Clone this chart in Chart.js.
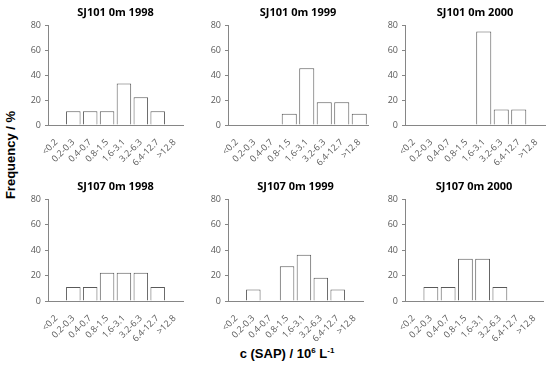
<!DOCTYPE html>
<html>
<head>
<meta charset="UTF-8">
<script src="https://cdn.jsdelivr.net/npm/chart.js"></script>
<style>
  body { margin: 0; background: #fff; width: 550px; height: 365px; position: relative; overflow: hidden; }
  canvas { position: absolute; }
  .axt { position: absolute; font-family: "Liberation Sans", Arial, sans-serif; font-weight: bold; font-size: 13px; color: #000; white-space: nowrap; }
  #ytitle { left: 10px; top: 155px; transform: translate(-50%, -50%) rotate(-90deg); }
  #xtitle { left: 287px; top: 353px; transform: translate(-50%, -50%); }
  sup { font-size: 8px; vertical-align: 5px; }
</style>
</head>
<body>
<div id="ytitle" class="axt">Frequency / %</div>
<div id="xtitle" class="axt">c (SAP) / 10<sup>6</sup> L<sup>-1</sup></div>

<script>
const classes = ['<0.2', '0.2-0.3', '0.4-0.7', '0.8-1.5', '1.6-3.1', '3.2-6.3', '6.4-12.7', '>12.8'];
const yTicks = [0, 20, 40, 60, 80];

const titles = ['SJ101 0m 1998', 'SJ101 0m 1999', 'SJ101 0m 2000',
                'SJ107 0m 1998', 'SJ107 0m 1999', 'SJ107 0m 2000'];

const sj101_1998 = [0, 11.1, 11.1, 11.1, 33.3, 22.2, 11.1, 0];
const sj101_1999 = [0, 0, 0, 9.1, 45.5, 18.2, 18.2, 9.1];
const sj101_2000 = [0, 0, 0, 0, 75, 12.5, 12.5, 0];
const sj107_1998 = [0, 11.1, 11.1, 22.2, 22.2, 22.2, 11.1, 0];
const sj107_1999 = [0, 9.1, 0, 27.3, 36.4, 18.2, 9.1, 0];
const sj107_2000 = [0, 11.1, 11.1, 33.3, 33.3, 11.1, 0, 0];

const series = [sj101_1998, sj101_1999, sj101_2000, sj107_1998, sj107_1999, sj107_2000];

// panel canvases: left, top, width, height
const boxes = [
  [18, 0, 170, 165], [198, 0, 175, 165], [375, 0, 175, 165],
  [18, 174, 170, 167], [198, 174, 170, 167], [375, 174, 173, 167]
];

const Y_W = 30, X_H = 40;
const grey = '#868686';
const tickCol = '#595959';
const tickFont = { family: '"Open Sans", "Liberation Sans", sans-serif', size: 9 };

series.forEach((vals, i) => {
  const b = boxes[i];
  const c = document.createElement('canvas');
  c.style.left = b[0] + 'px';
  c.style.top = b[1] + 'px';
  c.style.width = b[2] + 'px';
  c.style.height = b[3] + 'px';
  c.width = b[2];
  c.height = b[3];
  document.body.appendChild(c);

  new Chart(c.getContext('2d'), {
    type: 'bar',
    data: {
      labels: classes,
      datasets: [{
        data: vals,
        backgroundColor: '#ffffff',
        borderColor: '#595959',
        borderWidth: 1,
        barPercentage: 0.86,
        categoryPercentage: 1
      }]
    },
    options: {
      responsive: false,
      animation: false,
      layout: { padding: { right: 5 } },
      plugins: {
        legend: { display: false },
        tooltip: { enabled: false },
        title: {
          display: true,
          fullSize: false,
          text: titles[i],
          color: '#000',
          font: { family: '"Open Sans", "Liberation Sans", sans-serif', size: 11, weight: 'bold' },
          padding: { top: 6, bottom: 6 }
        }
      },
      scales: {
        x: {
          afterFit: s => { s.height = X_H; },
          grid: { display: false },
          border: { display: true, color: grey, width: 1 },
          ticks: { color: tickCol, font: tickFont, minRotation: 45, maxRotation: 45, autoSkip: false, padding: 4 }
        },
        y: {
          min: 0,
          max: 80,
          afterFit: s => { s.width = Y_W; },
          afterBuildTicks: s => { s.ticks = yTicks.map(v => ({ value: v })); },
          grid: { display: true, drawOnChartArea: false, drawTicks: true, tickLength: 3, color: grey },
          border: { display: true, color: grey, width: 1 },
          ticks: { color: tickCol, font: tickFont, padding: 4 }
        }
      }
    }
  });
});
</script>
</body>
</html>
